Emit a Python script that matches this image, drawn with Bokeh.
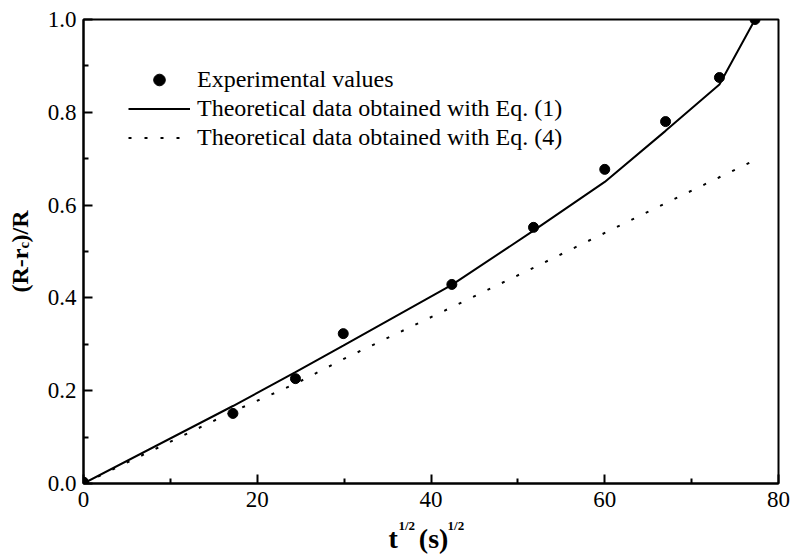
import math
from bokeh.plotting import figure
from bokeh.models import (FixedTicker, PrintfTickFormatter, Legend, LegendItem,
                          Label, Range1d)
from bokeh.embed import file_html
from bokeh.resources import INLINE

# ---- data ----
exp_x = [0.0, 17.2, 24.4, 29.9, 42.4, 51.8, 60.0, 67.0, 73.2, 77.3]
exp_y = [0.003, 0.151, 0.226, 0.323, 0.429, 0.552, 0.677, 0.780, 0.875, 1.0]

eq1_x = [0.0, 17.2, 24.4, 29.9, 42.4, 51.8, 60.0, 67.0, 73.2, 77.3]
eq1_y = [0.0, 0.167, 0.240, 0.297, 0.428, 0.545, 0.650, 0.760, 0.860, 1.0]

eq4_x = [0.0, 17.2, 24.4, 29.9, 42.4, 51.8, 60.0, 67.0, 73.2, 77.3]
eq4_y = [0.0, 0.155, 0.215, 0.268, 0.380, 0.465, 0.540, 0.604, 0.660, 0.697]

x_ticks = [0, 20, 40, 60, 80]
x_minor = [10, 30, 50, 70]
y_ticks = [0.0, 0.2, 0.4, 0.6, 0.8, 1.0]
y_minor = [0.1, 0.3, 0.5, 0.7, 0.9]

labels = ["Experimental values",
          "Theoretical data obtained with Eq. (1)",
          "Theoretical data obtained with Eq. (4)"]

SERIF = "Liberation Serif"
NB = "\u00a0"

W, H = 792, 556
LEFT, RIGHT, TOP, BOTTOM = 83, 14, 19, 73
FW = W - LEFT - RIGHT
FH = H - TOP - BOTTOM
X0, X1, Y0, Y1 = 0, 80, 0, 1.0

p = figure(width=W, height=H, x_range=Range1d(X0, X1), y_range=Range1d(Y0, Y1),
           output_backend="svg", toolbar_location=None,
           min_border_left=LEFT, min_border_right=RIGHT,
           min_border_top=TOP, min_border_bottom=BOTTOM)
p.grid.visible = False
p.outline_line_color = "black"
p.outline_line_width = 2
p.background_fill_color = "white"
p.border_fill_color = "white"

for ax, ticks, minor in ((p.xaxis[0], x_ticks, x_minor), (p.yaxis[0], y_ticks, y_minor)):
    ax.ticker = FixedTicker(ticks=ticks, minor_ticks=minor)
    ax.axis_line_width = 2
    ax.axis_line_color = "black"
    ax.major_tick_line_width = 2
    ax.minor_tick_line_width = 2
    ax.major_tick_line_color = "black"
    ax.minor_tick_line_color = "black"
    ax.major_tick_in = 9
    ax.major_tick_out = 0
    ax.minor_tick_in = 5
    ax.minor_tick_out = 0
    ax.major_label_text_font = SERIF
    ax.major_label_text_font_size = "23px"
    ax.major_label_text_color = "black"

p.xaxis[0].major_label_standoff = 8
p.yaxis[0].major_label_standoff = 7
p.yaxis[0].formatter = PrintfTickFormatter(format="%.1f")

r4 = p.line(eq4_x, eq4_y, line_color="black", line_width=2, line_dash="3 13")
r1 = p.line(eq1_x, eq1_y, line_color="black", line_width=2)
rp = p.scatter(exp_x, exp_y, size=10, marker="circle", color="black")

legend = Legend(items=[LegendItem(label=labels[0], renderers=[rp]),
                       LegendItem(label=labels[1], renderers=[r1]),
                       LegendItem(label=labels[2], renderers=[r4])],
                location=(45, 331), orientation="vertical",
                glyph_width=62, glyph_height=29, label_height=29,
                label_width=10, spacing=0, padding=0, margin=0,
                label_standoff=7, border_line_color=None,
                background_fill_alpha=0,
                label_text_font=SERIF, label_text_font_size="24px",
                label_text_baseline="middle", label_text_color="black")
p.add_layout(legend)

# helpers: convert pixel offsets from the frame's bottom-left corner to data units
def dx(px):
    return X0 + px * (X1 - X0) / FW

def dy(py):
    return Y0 + py * (Y1 - Y0) / FH

def lab(txt, x_img, y_img, size, angle=0.0):
    # picture pixel position -> data units (frame left = LEFT, frame bottom = TOP + FH)
    return Label(x=dx(x_img - LEFT), y=dy(TOP + FH - y_img), text=txt,
                 angle=angle, text_font=SERIF, text_font_style="bold",
                 text_font_size=size, text_color="black",
                 text_align="left", text_baseline="alphabetic")

# x-axis label: t^{1/2} (s)^{1/2}
x_base = lab("t" + NB * 3 + "(s)", 388, 538, "28px")
x_sup = lab("1/2" + NB * 10 + "1/2", 398, 525, "13px")
# y-axis label: (R-r_c)/R
y_main = lab("(R-r" + NB + ")/R", 19, 292, "24px", math.pi / 2)
y_sub = lab("c", 23, 248, "15px", math.pi / 2)

# side panels keep these texts outside the frame's clipping
p.add_layout(y_main, "left")
p.add_layout(y_sub, "left")
p.add_layout(x_base, "below")
p.add_layout(x_sup, "above")

open("out.html", "w").write(file_html(p, INLINE))
